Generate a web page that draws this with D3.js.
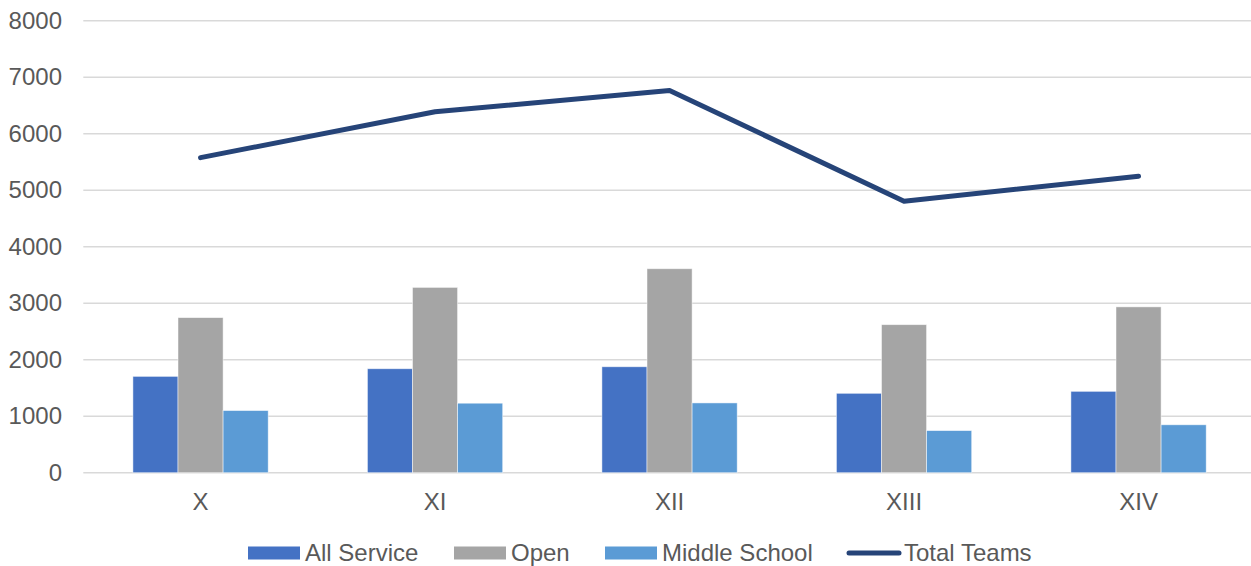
<!DOCTYPE html>
<html>
<head>
<meta charset="utf-8">
<script src="https://cdn.jsdelivr.net/npm/d3@7"></script>
<style>
  html, body { margin: 0; padding: 0; background: #fff; }
  svg { display: block; }
</style>
</head>
<body>
<div id="chart"></div>
<script>
// Competition rounds
const rounds = ["X", "XI", "XII", "XIII", "XIV"];

// Team counts per division
const allService = [1705, 1840, 1875, 1405, 1440];
const open = [2745, 3280, 3610, 2620, 2935];
const middleSchool = [1100, 1230, 1235, 745, 848];
const totalTeams = [5576, 6388, 6765, 4806, 5247];

const yTicks = [0, 1000, 2000, 3000, 4000, 5000, 6000, 7000, 8000];

const seriesNames = ["All Service", "Open", "Middle School"];
const colors = {
    "All Service": "#4472C4",
    "Open": "#A5A5A5",
    "Middle School": "#5B9BD5",
    "Total Teams": "#264478",
};

const width = 1251;
const height = 566;
const margin = { top: 20.7, right: -4.8, bottom: 93.3, left: 83.3 };
const fontSize = 24;

const barData = rounds.map((r, i) => ({
    round: r,
    values: [allService[i], open[i], middleSchool[i]].map((v, j) => ({
        key: seriesNames[j],
        value: v,
    })),
}));

const svg = d3
    .select("#chart")
    .append("svg")
    .attr("width", width)
    .attr("height", height)
    .attr("font-family", "'Liberation Sans', Arial, sans-serif");

const x0 = d3
    .scaleBand()
    .domain(rounds)
    .range([margin.left, width - margin.right]);

const x1 = d3
    .scaleBand()
    .domain(seriesNames)
    .range([0, x0.bandwidth()])
    .paddingInner(0)
    .paddingOuter(1.1);

const y = d3
    .scaleLinear()
    .domain([0, 8000])
    .range([height - margin.bottom, margin.top]);

// gridlines
svg.append("g")
    .selectAll("line")
    .data(yTicks)
    .join("line")
    .attr("x1", margin.left)
    .attr("x2", width)
    .attr("y1", (d) => y(d))
    .attr("y2", (d) => y(d))
    .attr("stroke", "#d9d9d9")
    .attr("stroke-width", 1.5);

// y axis labels
const yAxis = d3
    .axisLeft(y)
    .tickValues(yTicks)
    .tickFormat(d3.format("d"))
    .tickSize(0)
    .tickPadding(0);
svg.append("g")
    .attr("transform", `translate(${62}, 0)`)
    .call(yAxis)
    .call((g) => g.select(".domain").remove())
    .call((g) =>
        g.selectAll("text")
            .attr("font-size", fontSize)
            .attr("fill", "#595959")
            .attr("font-family", "'Liberation Sans', Arial, sans-serif"),
    );

// bars
svg.append("g")
    .selectAll("g")
    .data(barData)
    .join("g")
    .attr("transform", (d) => `translate(${x0(d.round)}, 0)`)
    .selectAll("rect")
    .data((d) => d.values)
    .join("rect")
    .attr("x", (d) => x1(d.key))
    .attr("y", (d) => y(d.value))
    .attr("width", x1.bandwidth())
    .attr("height", (d) => y(0) - y(d.value))
    .attr("fill", (d) => colors[d.key])
    .attr("stroke", "#ffffff")
    .attr("stroke-opacity", 0.6)
    .attr("stroke-width", 0.8);

// x axis labels
const xAxis = d3.axisBottom(x0).tickSize(0).tickPadding(0);
svg.append("g")
    .attr("transform", `translate(0, ${y(0) + 20})`)
    .call(xAxis)
    .call((g) => g.select(".domain").remove())
    .call((g) =>
        g.selectAll("text")
            .attr("font-size", fontSize)
            .attr("fill", "#595959")
            .attr("font-family", "'Liberation Sans', Arial, sans-serif"),
    );

// total line
const line = d3
    .line()
    .x((d, i) => x0(rounds[i]) + x0.bandwidth() / 2)
    .y((d) => y(d));

svg.append("path")
    .datum(totalTeams)
    .attr("d", line)
    .attr("fill", "none")
    .attr("stroke", colors["Total Teams"])
    .attr("stroke-width", 5)
    .attr("stroke-linejoin", "round")
    .attr("stroke-linecap", "round");

// legend
const legendItems = [
    { key: "All Service", x: 248, type: "rect" },
    { key: "Open", x: 454, type: "rect" },
    { key: "Middle School", x: 605, type: "rect" },
    { key: "Total Teams", x: 847, type: "line" },
];

const legend = svg.append("g").attr("transform", "translate(0, 553)");

legendItems.forEach((item) => {
    const g = legend.append("g").attr("transform", `translate(${item.x}, 0)`);
    if (item.type === "rect") {
        g.append("rect")
            .attr("x", 0)
            .attr("y", -6.5)
            .attr("width", 52)
            .attr("height", 13)
            .attr("fill", colors[item.key]);
    } else {
        g.append("line")
            .attr("x1", 2)
            .attr("x2", 52)
            .attr("y1", 0)
            .attr("y2", 0)
            .attr("stroke", colors[item.key])
            .attr("stroke-width", 5)
            .attr("stroke-linecap", "round");
    }
    g.append("text")
        .attr("x", 57)
        .attr("y", 0)
        .attr("dy", "0.35em")
        .attr("font-size", fontSize)
        .attr("fill", "#595959")
        .text(item.key);
});
</script>
</body>
</html>
